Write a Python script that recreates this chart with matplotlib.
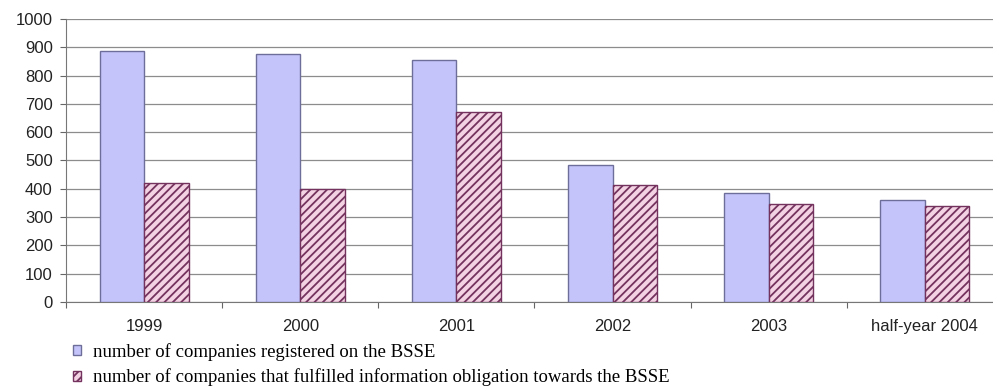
import matplotlib
matplotlib.use("Agg")
import matplotlib.pyplot as plt
import numpy as np

categories = ["1999", "2000", "2001", "2002", "2003", "half-year 2004"]
registered = [887, 876, 855, 484, 386, 360]
fulfilled = [421, 398, 670, 413, 345, 339]
series_labels = [
    "number of companies registered on the BSSE",
    "number of companies that fulfilled information obligation towards the BSSE",
]

plt.rcParams["hatch.linewidth"] = 1.3

fig = plt.figure(figsize=(9.93, 3.92), dpi=100)
ax = fig.add_axes([66 / 993, 1 - 302 / 392, 937 / 993, 283 / 392])

x = np.arange(len(categories))
w = 0.285
b1 = ax.bar(x - w / 2, registered, w, color="#c4c4fa", edgecolor="#6e6e9a",
            linewidth=1.0, label=series_labels[0], zorder=3)
b2 = ax.bar(x + w / 2, fulfilled, w, color="#f3d3e3", edgecolor="#74325e",
            hatch="////", linewidth=1.0, label=series_labels[1], zorder=3)

ax.set_xlim(-0.5, len(categories) - 0.5)
ax.set_ylim(0, 1000)
ax.set_yticks(np.arange(0, 1001, 100))
ax.yaxis.grid(True, color="#8c8c8c", linewidth=0.9, zorder=0)
ax.set_axisbelow(True)

# category boundaries carry the tick marks, names sit at the centres
ax.set_xticks(np.arange(-0.5, len(categories), 1.0))
ax.set_xticklabels([])
ax.set_xticks(x, minor=True)
ax.set_xticklabels(categories, minor=True)
ax.tick_params(axis="x", which="minor", length=0, pad=12.5,
               labelsize=12, labelcolor="#222222")
ax.tick_params(axis="x", which="major", length=4, color="#666666", direction="out")
ax.tick_params(axis="y", length=4.5, color="#666666", labelsize=12,
               labelcolor="#222222", pad=5)
for lab in ax.get_xticklabels(minor=True) + ax.get_yticklabels():
    lab.set_fontfamily("Liberation Sans")

for s in ["top", "right"]:
    ax.spines[s].set_visible(False)
ax.spines["left"].set_color("#777777")
ax.spines["bottom"].set_color("#777777")

leg = fig.legend(handles=[b1, b2], labels=series_labels,
                 loc="upper left", bbox_to_anchor=(73 / 993, 1 - 343 / 392),
                 frameon=False, prop={"family": "Liberation Serif", "size": 13.5},
                 handlelength=0.45, handleheight=0.45, handletextpad=0.6,
                 labelspacing=0.4, borderpad=0.0, borderaxespad=0.0)

fig.savefig("out.png", dpi=100)
